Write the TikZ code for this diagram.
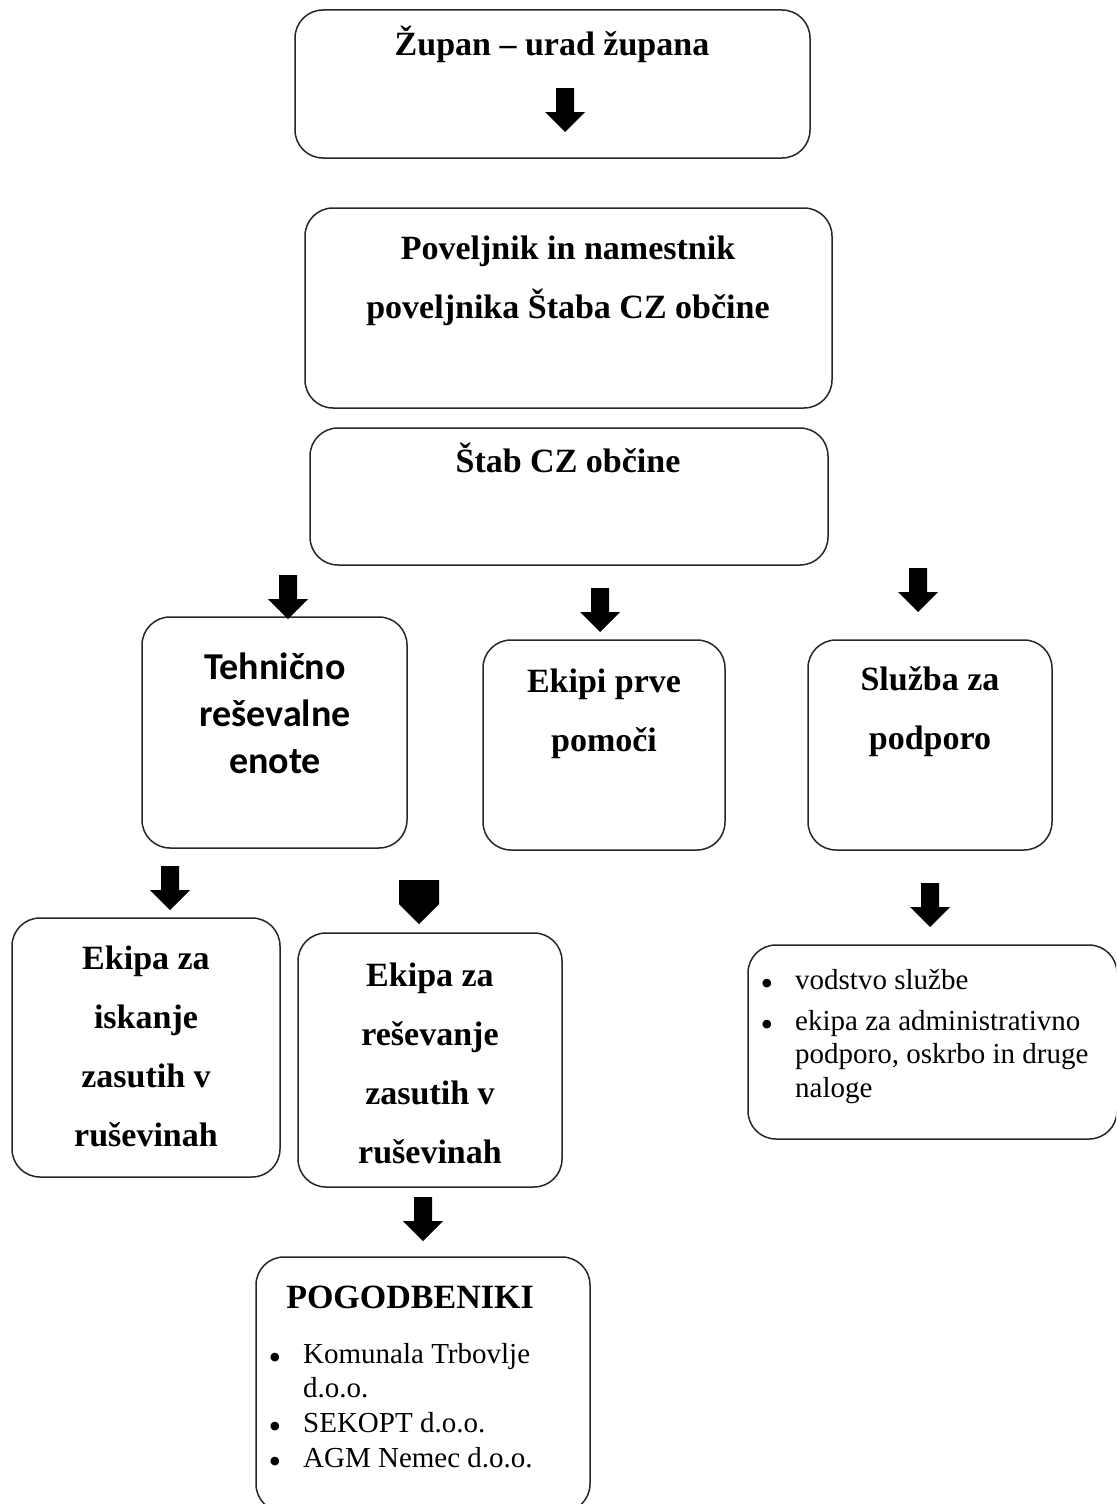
\documentclass[tikz,border=0pt]{standalone}
\usepackage{fontspec}
\setmainfont{Liberation Serif}
\newfontfamily\carl{Carlito}
\begin{document}
\begin{tikzpicture}[x=1pt,y=-1pt,
  box/.style={draw=black!85,line width=1.5pt,rounded corners=28pt,inner sep=0pt},
  hd/.style={font=\bfseries\fontsize{34}{59}\selectfont,align=center,anchor=base,inner sep=0pt},
  sanshd/.style={font=\carl\bfseries\fontsize{38}{47}\selectfont,align=center,anchor=base,inner sep=0pt},
  bl/.style={font=\fontsize{29}{33.5}\selectfont,align=left,anchor=base west,inner sep=0pt},
  bul/.style={font=\fontsize{36}{36}\selectfont,anchor=base,inner sep=0pt},
  darr/.style={insert path={++(-9,0) -- ++(0,24) -- ++(-11,0) -- ++(20,20) -- ++(20,-20) -- ++(-11,0) -- ++(0,-24) -- cycle}},
  parr/.style={insert path={++(-20,0) -- ++(0,24) -- ++(20,20) -- ++(20,-20) -- ++(0,-24) -- cycle}}]
\useasboundingbox (0,0) rectangle (1116,1504);
\clip (0,0) rectangle (1116,1504);
\fill[white] (0,0) rectangle (1116,1504);
% boxes
\node[box,minimum width=515pt,minimum height=148pt] (zupan) at (552.5,84) {};
\node[box,minimum width=527pt,minimum height=200pt] (povel) at (568.5,308) {};
\node[box,minimum width=518pt,minimum height=137pt] (stab) at (569,496.5) {};
\node[box,minimum width=265pt,minimum height=231pt] (tehn) at (274.5,732.5) {};
\node[box,minimum width=242pt,minimum height=210pt] (ekipi) at (604,745) {};
\node[box,minimum width=244pt,minimum height=210pt] (sluzba) at (930,745) {};
\node[box,minimum width=268pt,minimum height=259pt] (iskanje) at (146,1047.5) {};
\node[box,minimum width=264pt,minimum height=254pt] (resev) at (430,1060) {};
\node[box,minimum width=369pt,minimum height=194pt] (vodstvo) at (932.5,1042) {};
\node[box,minimum width=334pt,minimum height=255pt] (pogod) at (423,1384.5) {};
% texts (base = baseline of last line)
\node[hd] (tzupan) at (552,56) {Župan – urad župana};
\node[hd] (tpovel) at (568,318) {Poveljnik in namestnik\\poveljnika Štaba CZ občine};
\node[hd] (tstab) at (568,472) {Štab CZ občine};
\node[sanshd] (ttehn) at (275,773) {Tehnično\\reševalne\\enote};
\node[hd] (tekipi) at (604,751) {Ekipi prve\\pomoči};
\node[hd] (tsluzba) at (930,749) {Služba za\\podporo};
\node[hd] (tiskanje) at (146,1146) {Ekipa za\\iskanje\\zasutih v\\ruševinah};
\node[hd] (tresev) at (430,1163) {Ekipa za\\reševanje\\zasutih v\\ruševinah};
\node[bul] (bv1) at (767,995) {•};
\node[bl] (tv1) at (795,989) {vodstvo službe};
\node[bul] (bv2) at (767,1036) {•};
\node[bl] (tv2) at (795,1097) {ekipa za administrativno\\podporo, oskrbo in druge\\naloge};
\node[hd] (tpogod) at (410,1308) {POGODBENIKI};
\node[bul] (bp1) at (275,1369) {•};
\node[bl] (tp1) at (303,1397) {Komunala Trbovlje\\d.o.o.};
\node[bul] (bp2) at (275,1438) {•};
\node[bl] (tp2) at (303,1432) {SEKOPT d.o.o.};
\node[bul] (bp3) at (275,1473) {•};
\node[bl] (tp3) at (303,1467) {AGM Nemec d.o.o.};
% block arrows
\coordinate (a1) at (565,88);
\coordinate (a2) at (288,575);
\coordinate (a3) at (600,588);
\coordinate (a4) at (918,568);
\coordinate (a5) at (170,866);
\coordinate (a6) at (419,880);
\coordinate (a7) at (930,883);
\coordinate (a8) at (423,1197);
\fill (a1) [darr];
\fill (a2) [darr];
\fill (a3) [darr];
\fill (a4) [darr];
\fill (a5) [darr];
\fill (a6) [parr];
\fill (a7) [darr];
\fill (a8) [darr];
\end{tikzpicture}
\end{document}
